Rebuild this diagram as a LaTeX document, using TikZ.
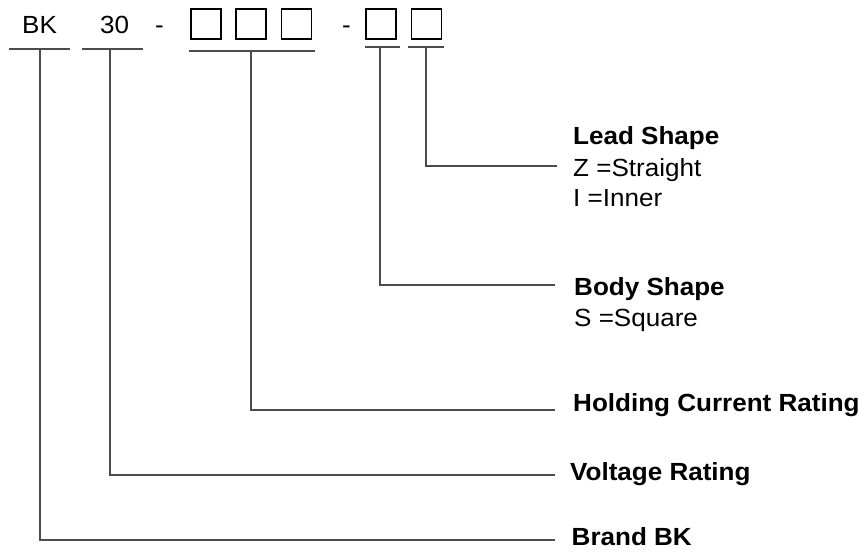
\documentclass[tikz,border=0pt]{standalone}
\usepackage{fontspec}
\setmainfont{Liberation Sans}[FakeStretch=1.05]
\begin{document}
\begin{tikzpicture}[x=1pt,y=-1pt,
  txt/.style={anchor=base west,inner sep=0pt,font=\fontsize{24.8}{29}\selectfont},
  btxt/.style={txt,font=\fontsize{24.8}{29}\selectfont\bfseries},
  slot/.style={draw=black,line width=1.7pt,minimum width=30pt,minimum height=30pt,inner sep=0pt},
  leader/.style={draw=black!70,line width=1.2pt}]
\useasboundingbox (0,0) rectangle (868,553);
% code
\node[txt] (bk) at (22,33.3) {BK};
\node[txt] (n30) at (100,33.3) {30};
\node[txt] (d1) at (155,33.3) {-};
\node[slot] (s1) at (206,24) {};
\node[slot] (s2) at (251,24) {};
\node[slot] (s3) at (296.5,24) {};
\node[txt] (d2) at (342,33.3) {-};
\node[slot] (s4) at (381,24) {};
\node[slot] (s5) at (426.5,24) {};
% underlines
\coordinate (a1) at (9,49); \coordinate (b1) at (70,49); \coordinate (u1) at (40,49);
\coordinate (a2) at (82,49); \coordinate (b2) at (143,49); \coordinate (u2) at (110,49);
\coordinate (a3) at (189,51); \coordinate (b3) at (315,51); \coordinate (u3) at (251,51);
\coordinate (a4) at (365,47); \coordinate (b4) at (400,47); \coordinate (u4) at (380,47);
\coordinate (a5) at (408,47); \coordinate (b5) at (444,47); \coordinate (u5) at (426,47);
\draw[leader] (a1) -- (b1);
\draw[leader] (a2) -- (b2);
\draw[leader] (a3) -- (b3);
\draw[leader] (a4) -- (b4);
\draw[leader] (a5) -- (b5);
% ends
\coordinate (e5) at (557,166);
\coordinate (e4) at (555,285);
\coordinate (e3) at (555,410);
\coordinate (e2) at (555,475);
\coordinate (e1) at (555,540);
\draw[leader] (u5) |- (e5);
\draw[leader] (u4) |- (e4);
\draw[leader] (u3) |- (e3);
\draw[leader] (u2) |- (e2);
\draw[leader] (u1) |- (e1);
% labels
\node[btxt] (lead) at (573,145) {Lead Shape};
\node[txt] (leadz) at (573,176.7) {Z =Straight};
\node[txt] (leadi) at (573,207) {I =Inner};
\node[btxt] (body) at (574,295.7) {Body Shape};
\node[txt] (bodys) at (574,326.5) {S =Square};
\node[btxt] (hold) at (573,411.7) {Holding Current Rating};
\node[btxt] (volt) at (570,480) {Voltage Rating};
\node[btxt] (brand) at (571.5,545) {Brand BK};
\end{tikzpicture}
\end{document}
